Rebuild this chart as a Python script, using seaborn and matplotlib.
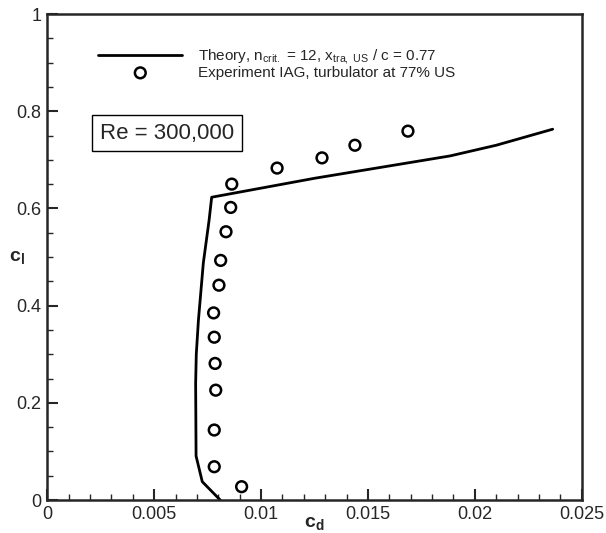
import matplotlib
matplotlib.use("Agg")
import matplotlib.pyplot as plt
from matplotlib.ticker import MultipleLocator
import seaborn as sns
import pandas as pd

# Theory curve
theory_cd = [0.00809, 0.00725, 0.00696, 0.00694, 0.00697, 0.00707, 0.00730, 0.00757, 0.00769, 0.0125, 0.01884, 0.02100, 0.02364]
theory_cl = [0.0, 0.0377, 0.0905, 0.24, 0.30, 0.37, 0.488, 0.576, 0.623, 0.662, 0.708, 0.730, 0.763]

# Experiment IAG
exp_cd = [0.00909, 0.00781, 0.00781, 0.00788, 0.00785, 0.00781, 0.00778, 0.00803, 0.00811, 0.00836, 0.00858, 0.00863, 0.01075, 0.01285, 0.01439, 0.01687]
exp_cl = [0.0274, 0.0685, 0.144, 0.226, 0.281, 0.335, 0.385, 0.442, 0.493, 0.552, 0.602, 0.650, 0.683, 0.704, 0.730, 0.759]

x_ticks = [0, 0.005, 0.01, 0.015, 0.02, 0.025]
x_ticklabels = ["0", "0.005", "0.01", "0.015", "0.02", "0.025"]
y_ticks = [0, 0.2, 0.4, 0.6, 0.8, 1.0]
y_ticklabels = ["0", "0.2", "0.4", "0.6", "0.8", "1"]

theory_label = r"Theory, n$_{\mathregular{crit.}}$ = 12, x$_{\mathregular{tra,\ US}}$ / c = 0.77"
exp_label = "Experiment IAG, turbulator at 77% US"
re_text = "Re = 300,000"

sns.set_style("ticks")
plt.rcParams["font.family"] = ["Liberation Sans", "DejaVu Sans"]
plt.rcParams["mathtext.fontset"] = "custom"
plt.rcParams["mathtext.rm"] = "Liberation Sans"
plt.rcParams["mathtext.bf"] = "Liberation Sans:bold"
plt.rcParams["mathtext.it"] = "Liberation Sans:italic"

fig = plt.figure(figsize=(6.06, 5.33), dpi=100)
ax = fig.add_axes([0.078, 0.0619, 0.882, 0.9118])

df_t = pd.DataFrame({"cd": theory_cd, "cl": theory_cl})
df_e = pd.DataFrame({"cd": exp_cd, "cl": exp_cl})

sns.lineplot(data=df_t, x="cd", y="cl", sort=False, estimator=None, color="black",
             linewidth=2.0, ax=ax, label=theory_label)
sns.scatterplot(data=df_e, x="cd", y="cl", marker="o", facecolor="none", edgecolor="black",
                linewidth=1.8, s=60, ax=ax, label=exp_label, zorder=3)

ax.set_xlim(0, 0.025)
ax.set_ylim(0, 1)
ax.set_xticks(x_ticks)
ax.set_xticklabels(x_ticklabels)
ax.set_yticks(y_ticks)
ax.set_yticklabels(y_ticklabels)
ax.xaxis.set_minor_locator(MultipleLocator(0.001))
ax.yaxis.set_minor_locator(MultipleLocator(0.05))
ax.tick_params(which="major", direction="in", length=8, width=1.5, labelsize=13, pad=4,
               top=False, right=False)
ax.tick_params(which="minor", direction="in", length=4.5, width=1.0, top=False, right=False)
for sp in ax.spines.values():
    sp.set_linewidth(1.8)
    sp.set_visible(True)

ax.set_xlabel("")
ax.set_ylabel("")
ax.text(0.5, -0.03, r"$\mathbf{c_d}$", transform=ax.transAxes, ha="center", va="top", fontsize=14)
ax.text(-0.056, 0.5, r"$\mathbf{c_l}$", transform=ax.transAxes, ha="center", va="center", fontsize=14)

ax.text(0.224, 0.755, re_text, transform=ax.transAxes, ha="center", va="center", fontsize=16,
        bbox=dict(boxstyle="square,pad=0.35", facecolor="white", edgecolor="black", linewidth=1.0))

leg = ax.legend(loc="upper left", bbox_to_anchor=(0.084, 0.945), frameon=False, fontsize=11,
                handlelength=5.5, handletextpad=1.0, labelspacing=0.0, borderaxespad=0)

fig.savefig("out.png", dpi=100)
